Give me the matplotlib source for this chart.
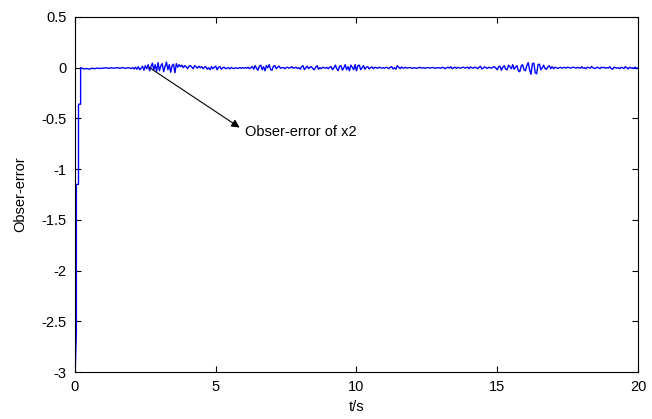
import numpy as np
import matplotlib
matplotlib.use("Agg")
import matplotlib.pyplot as plt

plt.rcParams['font.family'] = ['Liberation Sans', 'DejaVu Sans']

# start-up transient of the observer error
t_start = [0.0, 0.007, 0.05, 0.05, 0.125, 0.125, 0.2, 0.2]
err_start = [0.5, -3.0, -2.6, -1.15, -1.15, -0.36, -0.36, 0.0]

# steady part, one value every 0.05 s from t = 0.3 s to 20 s
err_steady = [
    # 0.3 - 0.95
    -0.01, -0.012, -0.008, -0.01, -0.015, -0.01, -0.005, -0.008, -0.01, -0.006, -0.004, -0.008, -0.006, -0.005,
    # 1 - 1.95
    -0.005, -0.003, 0.0, -0.004, -0.006, -0.003, -0.002, -0.005, -0.004, -0.002, 0.0, -0.003, -0.005, -0.002, 0.002, -0.004, -0.006, -0.002, 0.0, -0.004,
    # 2 - 2.95
    -0.008, 0.0, -0.012, 0.004, -0.015, 0.01, -0.02, -0.005, 0.015, -0.025, 0.02, -0.01, 0.03, -0.03, 0.01, 0.045, -0.02, 0.03, -0.035, 0.05,
    # 3 - 3.95
    -0.03, 0.02, 0.04, -0.04, 0.01, 0.055, -0.02, 0.03, -0.045, 0.02, 0.035, -0.05, 0.04, 0.005, 0.03, 0.01, 0.025, 0.0, 0.02, 0.01,
    # 4 - 4.95
    -0.01, 0.015, 0.02, 0.005, -0.01, 0.02, 0.01, -0.005, 0.015, 0.0, 0.01, -0.01, 0.005, 0.01, -0.015, 0.0, -0.02, 0.01, -0.01, 0.005,
    # 5 - 5.95
    0.015, -0.02, 0.005, 0.01, -0.015, 0.0, 0.005, -0.01, -0.005, 0.0, -0.012, 0.003, -0.006, -0.01, 0.0, -0.004, -0.008, 0.002, -0.005, 0.0,
    # 6 - 6.95
    -0.005, 0.0, -0.004, 0.005, -0.01, 0.0, 0.012, -0.015, 0.02, -0.005, -0.025, 0.015, 0.025, -0.02, 0.01, -0.03, 0.02, 0.0, 0.03, -0.02,
    # 7 - 7.95
    -0.025, 0.015, 0.02, -0.01, 0.005, 0.015, -0.005, 0.0, 0.002, -0.01, 0.0, 0.005, -0.005, 0.0, 0.01, -0.005, 0.0, 0.004, -0.006, 0.0,
    # 8 - 8.95
    -0.015, 0.01, 0.02, -0.02, 0.0, 0.015, -0.01, 0.005, 0.01, -0.01, -0.02, 0.005, 0.02, -0.015, 0.0, -0.01, 0.005, 0.0, -0.005, 0.003,
    # 9 - 9.95
    -0.01, 0.005, 0.01, -0.02, 0.0, 0.025, -0.01, -0.03, 0.015, 0.02, -0.025, 0.0, 0.03, -0.02, 0.01, -0.03, 0.025, 0.005, -0.02, 0.03,
    # 10 - 10.95
    -0.03, 0.02, 0.025, -0.02, 0.0, 0.02, -0.015, 0.005, 0.01, -0.012, 0.0, 0.008, -0.01, 0.004, 0.0, -0.006, 0.005, 0.0, -0.004, 0.0,
    # 11 - 11.95
    -0.005, 0.004, 0.0, -0.01, 0.005, 0.01, -0.012, 0.0, -0.015, 0.02, 0.005, -0.01, 0.008, -0.005, 0.0, 0.004, -0.005, 0.0, 0.002, -0.003,
    # 12 - 12.95
    -0.005, 0.0, -0.003, -0.006, 0.0, 0.004, -0.004, 0.0, -0.002, -0.005, 0.0, 0.002, -0.004, 0.0, 0.003, -0.003, -0.005, 0.0, -0.002, 0.0,
    # 13 - 13.95
    -0.005, 0.004, 0.0, -0.01, 0.0, 0.005, -0.004, 0.01, -0.01, 0.0, 0.005, -0.008, 0.004, 0.0, -0.005, 0.002, 0.005, -0.004, 0.0, 0.005,
    # 14 - 14.95
    -0.01, 0.008, 0.0, -0.005, 0.005, 0.0, -0.01, 0.004, 0.015, -0.012, -0.005, 0.008, 0.0, -0.006, 0.004, 0.0, -0.005, 0.006, 0.01, -0.004,
    # 15 - 15.95
    -0.02, 0.01, 0.015, -0.025, 0.005, 0.02, -0.015, -0.02, 0.025, 0.01, -0.01, 0.03, -0.015, 0.005, 0.02, -0.03, -0.04, 0.015, 0.03, -0.02,
    # 16 - 16.95
    -0.03, 0.02, 0.05, -0.02, -0.065, 0.04, 0.045, -0.05, -0.06, 0.03, 0.035, -0.02, 0.0, 0.025, -0.01, -0.015, 0.01, 0.02, -0.01, 0.01,
    # 17 - 17.95
    -0.01, 0.005, 0.0, -0.008, 0.0, 0.004, -0.005, 0.0, 0.003, -0.004, 0.005, 0.0, -0.004, 0.0, 0.006, 0.0, -0.005, 0.002, 0.0, -0.005,
    # 18 - 18.95
    0.01, -0.005, 0.0, -0.01, 0.005, 0.0, -0.005, 0.012, 0.0, -0.008, -0.005, 0.004, 0.0, -0.01, 0.005, 0.0, 0.004, -0.005, 0.0, -0.004,
    # 19 - 20
    0.01, -0.008, -0.015, 0.005, 0.0, -0.005, 0.0, -0.01, 0.004, 0.0, -0.008, 0.01, 0.0, -0.012, 0.005, -0.004, 0.0, -0.008, 0.006, -0.01, 0.0,
]
t_steady = 0.3 + 0.05 * np.arange(len(err_steady))

t = np.concatenate([t_start, t_steady])
err = np.concatenate([err_start, err_steady])

fig = plt.figure(figsize=(6.52, 4.19), dpi=100)
ax = fig.add_axes([0.115, 0.112, 0.8635, 0.8475])
ax.plot(t, err, color='#0000ff', lw=1.0)

# arrow from the curve to the label
ax.annotate('', xy=(5.85, -0.59), xytext=(2.65, 0.0),
            arrowprops=dict(arrowstyle='-|>', color='black', lw=0.8,
                            mutation_scale=12, shrinkA=0, shrinkB=0))
ax.text(6.05, -0.63, 'Obser-error of x2', fontsize=10.5, va='center', ha='left')

ax.set_xlim(0, 20)
ax.set_ylim(-3, 0.5)
ax.set_xticks([0, 5, 10, 15, 20])
ax.set_yticks([-3, -2.5, -2, -1.5, -1, -0.5, 0, 0.5])
ax.set_yticklabels(['-3', '-2.5', '-2', '-1.5', '-1', '-0.5', '0', '0.5'])
ax.tick_params(direction='in', top=True, right=True, length=4, width=0.8,
               labelsize=10.5, pad=6)
ax.set_xlabel('t/s', fontsize=10.5, labelpad=4)
ax.set_ylabel('Obser-error', fontsize=10.5, labelpad=10)

plt.savefig('out.png', dpi=100)
